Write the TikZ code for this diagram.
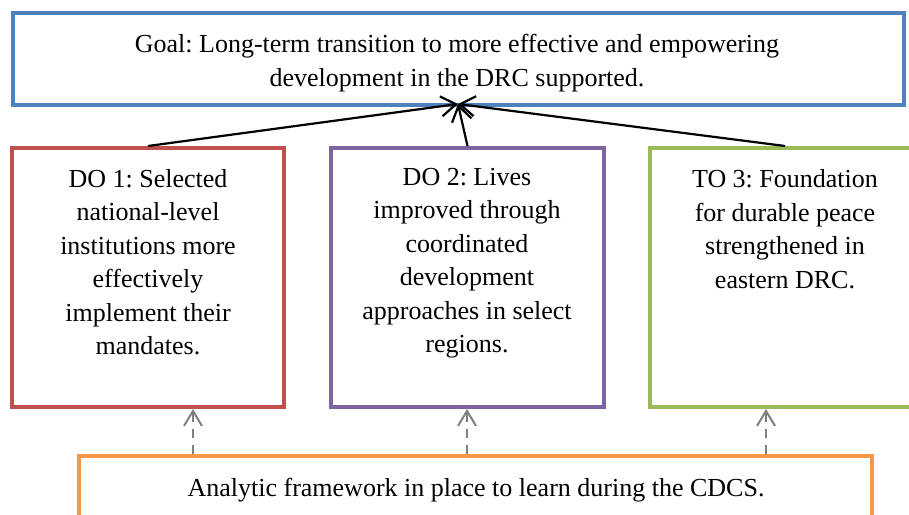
\documentclass[tikz,border=0pt]{standalone}
\usepackage{fontspec}
\setmainfont{Liberation Serif}
\usetikzlibrary{arrows.meta}
\definecolor{goalblue}{HTML}{4F81BD}
\definecolor{dored}{HTML}{C0504D}
\definecolor{dopurple}{HTML}{8064A2}
\definecolor{togreen}{HTML}{9BBB59}
\definecolor{aforange}{HTML}{F79646}
\definecolor{arrgray}{HTML}{7F7F7F}
\frenchspacing
\begin{document}
\begin{tikzpicture}[x=1pt,y=-1pt,
  box/.style={draw, line width=4pt, fill=white, inner sep=0pt},
  txt/.style={align=center, inner sep=0pt, font=\fontsize{26}{33.5}\selectfont},
  mainarrow/.style={line width=2.2pt, -{Straight Barb[length=15pt,width=20pt,line width=2.2pt]}},
  dasharrow/.style={arrgray, line width=2pt, dash pattern=on 9pt off 7pt, -{Straight Barb[length=15pt,width=18pt,line width=2pt]}}
]
\useasboundingbox (0,0) rectangle (909,514);
\node[box, draw=goalblue, minimum width=891pt, minimum height=92pt] (goal) at (458.5,59) {};
\node[txt] (goaltxt) at (457,63) {Goal: Long-term transition to more effective and empowering\\development in the DRC supported.};
\node[box, draw=dored, minimum width=272pt, minimum height=259pt] (do1) at (148,277.5) {};
\node[box, draw=dopurple, minimum width=273pt, minimum height=259pt] (do2) at (467.5,277.5) {};
\node[box, draw=togreen, minimum width=270pt, minimum height=259pt] (to3) at (785,277.5) {};
\node[box, draw=aforange, minimum width=793pt, minimum height=100pt] (af) at (475.5,506) {};
\node[txt] (do1txt) at (148,262) {DO 1: Selected\\national-level\\institutions more\\effectively\\implement their\\mandates.};
\node[txt] (do2txt) at (467,263) {DO 2: Lives\\improved through\\coordinated\\development\\approaches in select\\regions.};
\node[txt] (to3txt) at (785,229) {TO 3: Foundation\\for durable peace\\strengthened in\\eastern DRC.};
\node[txt] (aftxt) at (476,490) {Analytic framework in place to learn during the CDCS.};
\coordinate (tip) at (458,104);
\draw[mainarrow] (do1.north) -- (tip);
\draw[mainarrow] (do2.north) -- (tip);
\draw[mainarrow] (to3.north) -- (tip);
\coordinate (c1) at (193,0);
\coordinate (c2) at (467,0);
\coordinate (c3) at (766,0);
\draw[dasharrow] (c1 |- af.north) -- (c1 |- do1.south);
\draw[dasharrow] (c2 |- af.north) -- (c2 |- do2.south);
\draw[dasharrow] (c3 |- af.north) -- (c3 |- to3.south);
\end{tikzpicture}
\end{document}
